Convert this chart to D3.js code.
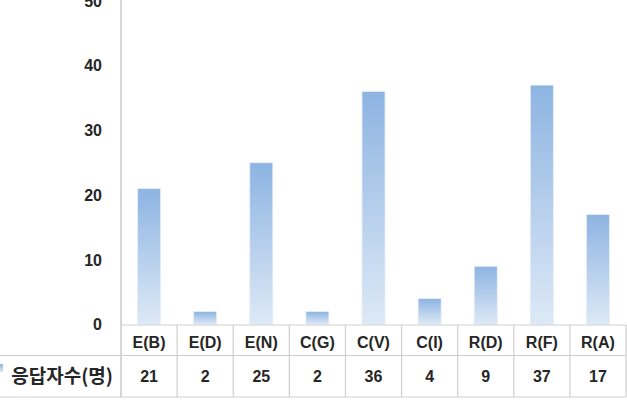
<!DOCTYPE html>
<html>
<head>
<meta charset="utf-8">
<script src="https://cdn.jsdelivr.net/npm/d3@7"></script>
<style>
  body { margin: 0; background: #fff; }
  text { font-family: "Liberation Sans", "Noto Sans CJK KR", sans-serif; font-weight: bold; fill: #262626; }
</style>
</head>
<body>
<svg id="chart" width="627" height="414"></svg>
<script>
// data
const categories = ["E(B)", "E(D)", "E(N)", "C(G)", "C(V)", "C(I)", "R(D)", "R(F)", "R(A)"];
const counts = [21, 2, 25, 2, 36, 4, 9, 37, 17];
const seriesName = "응답자수(명)";
const yTicks = [0, 10, 20, 30, 40, 50];

const svg = d3.select("#chart");
const plotLeft = 121, plotRight = 626;
const rowTop = 325, rowMid = 355.5, rowBottom = 397;

const x = d3.scaleBand().domain(categories).range([plotLeft, plotRight]).paddingInner(0).paddingOuter(0);
const y = d3.scaleLinear().domain([0, 50]).range([324.5, 1]);

// gradient for bars
const defs = svg.append("defs");
const grad = defs.append("linearGradient")
  .attr("id", "barGrad")
  .attr("x1", 0).attr("y1", 0).attr("x2", 0).attr("y2", 1);
grad.append("stop").attr("offset", "0%").attr("stop-color", "#8db4e2");
grad.append("stop").attr("offset", "100%").attr("stop-color", "#dde9f6");

// bars
const barW = 23;
svg.append("g")
  .selectAll("rect")
  .data(categories)
  .join("rect")
  .attr("x", (d) => x(d) + x.bandwidth() / 2 - barW / 2)
  .attr("y", (d, i) => y(counts[i]))
  .attr("width", barW)
  .attr("height", (d, i) => y(0) - y(counts[i]))
  .attr("fill", "url(#barGrad)")
  .attr("stroke", "#e6eef8")
  .attr("stroke-width", 0.8);

// y axis line and labels
svg.append("line")
  .attr("x1", plotLeft).attr("x2", plotLeft)
  .attr("y1", 0).attr("y2", rowBottom)
  .attr("stroke", "#c8c8c8").attr("stroke-width", 1.5);

svg.append("g")
  .selectAll("text")
  .data(yTicks)
  .join("text")
  .attr("x", plotLeft - 19)
  .attr("y", (d) => y(d))
  .attr("dy", "0.36em")
  .attr("text-anchor", "end")
  .style("font-size", "16px")
  .text((d) => d);

// data table under the chart
const grid = svg.append("g").attr("stroke", "#cfcfcf").attr("stroke-width", 1.2);
grid.append("line").attr("x1", plotLeft).attr("x2", plotRight).attr("y1", rowTop).attr("y2", rowTop);
grid.append("line").attr("x1", 0).attr("x2", plotRight).attr("y1", rowMid).attr("y2", rowMid);
grid.append("line").attr("x1", 0).attr("x2", plotRight).attr("y1", rowBottom).attr("y2", rowBottom);
grid.selectAll("line.col")
  .data(categories)
  .join("line")
  .attr("class", "col")
  .attr("x1", (d) => x(d) + x.bandwidth())
  .attr("x2", (d) => x(d) + x.bandwidth())
  .attr("y1", rowTop).attr("y2", rowBottom);

svg.append("g")
  .selectAll("text")
  .data(categories)
  .join("text")
  .attr("x", (d) => x(d) + x.bandwidth() / 2)
  .attr("y", (rowTop + rowMid) / 2 + 1.5)
  .attr("dy", "0.36em")
  .attr("text-anchor", "middle")
  .style("font-size", "16px")
  .text((d) => d);

svg.append("g")
  .selectAll("text")
  .data(categories)
  .join("text")
  .attr("x", (d) => x(d) + x.bandwidth() / 2)
  .attr("y", (rowMid + rowBottom) / 2)
  .attr("dy", "0.36em")
  .attr("text-anchor", "middle")
  .style("font-size", "16px")
  .text((d, i) => counts[i]);

// series label with legend key
svg.append("rect")
  .attr("x", -4).attr("y", 364)
  .attr("width", 7).attr("height", 8)
  .attr("fill", "url(#barGrad)");

svg.append("text")
  .attr("x", 113)
  .attr("y", (rowMid + rowBottom) / 2)
  .attr("dy", "0.36em")
  .attr("text-anchor", "end")
  .style("font-family", "'Noto Sans CJK KR', sans-serif")
  .style("font-size", "19px")
  .text(seriesName);
</script>
</body>
</html>
